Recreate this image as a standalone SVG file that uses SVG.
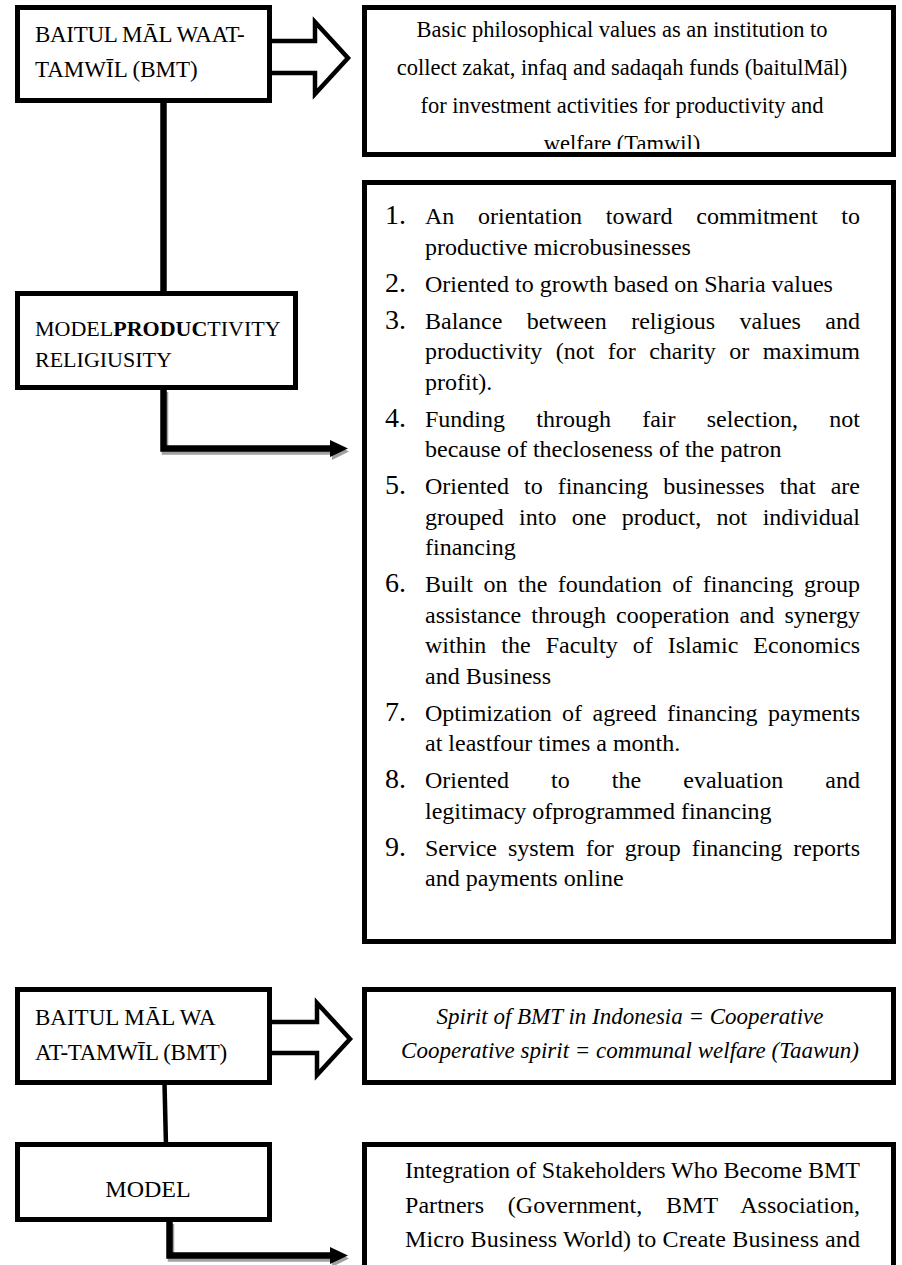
<svg xmlns="http://www.w3.org/2000/svg" width="902" height="1265" viewBox="0 0 902 1265">
<defs>
<style>
.box{fill:#fff;stroke:#000;stroke-width:5}
.t{font-family:'Liberation Serif','Times New Roman',serif;fill:#000}
.b24{font-size:24px}
.num{font-size:28px}
.conn{fill:none;stroke:#000;stroke-width:6.5}
.shadow{fill:none;stroke:#a0a0a0;stroke-width:6.5}
.block{fill:#fff;stroke:#000;stroke-width:4.5;stroke-linejoin:miter}
</style>
<clipPath id="clipTop"><rect x="367" y="10" width="524" height="139"/></clipPath>
</defs>
<rect width="902" height="1265" fill="#fff"/>

<g id="connectors">
  <polygon class="block" points="268,41 315,41 315,22 348,58 315,94 315,73 268,73"/>
  <line class="conn" x1="163.5" y1="100" x2="163.5" y2="295"/>
  <path class="shadow" d="M165,392 V451.5 H334"/>
  <polygon fill="#a0a0a0" points="332,443 349,451.5 332,460"/>
  <path class="conn" d="M163.5,388 V448.5 H333"/>
  <polygon fill="#000" points="330,440 348,448.5 330,457"/>
  <polygon class="block" points="268,1022 317,1022 317,1003 350,1039 317,1075 317,1053 268,1053"/>
  <line stroke="#000" stroke-width="4.5" x1="164.5" y1="1083" x2="166" y2="1146"/>
  <path class="shadow" d="M171,1224 V1258.5 H334"/>
  <polygon fill="#a0a0a0" points="332,1250 349,1258.5 332,1267"/>
  <path class="conn" d="M169.5,1220 V1255.5 H333"/>
  <polygon fill="#000" points="330,1247 348,1255.5 330,1264"/>
</g>

<g id="n-bmt-top">
  <rect class="box" x="17.5" y="7.5" width="252" height="93"/>
  <text class="t" font-size="23" x="35" y="42" letter-spacing="-0.3">BAITUL MĀL WAAT-</text>
  <text class="t" font-size="23" x="35" y="77">TAMWĪL (BMT)</text>
</g>

<g id="n-philosophy">
  <rect class="box" x="364.5" y="7.5" width="529" height="147"/>
  <g clip-path="url(#clipTop)" class="t" font-size="22.5" text-anchor="middle">
    <text x="622" y="37">Basic philosophical values as an institution to</text>
    <text x="622" y="75">collect zakat, infaq and sadaqah funds (baitulMāl)</text>
    <text x="622" y="113">for investment activities for productivity and</text>
    <text x="622" y="151">welfare (Tamwil)</text>
  </g>
</g>

<g id="n-model-prod">
  <rect class="box" x="17.5" y="293.5" width="278" height="94"/>
  <text class="t" font-size="22" x="35" y="336">MODEL<tspan font-weight="bold">PRODUC</tspan>TIVITY</text>
  <text class="t" font-size="22" x="35" y="367">RELIGIUSITY</text>
</g>

<g id="n-list">
  <rect class="box" x="364.5" y="182.5" width="529" height="759"/>
  <g class="t num">
    <text x="385" y="224">1.</text>
    <text x="385" y="291.5">2.</text>
    <text x="385" y="328.5">3.</text>
    <text x="385" y="426.5">4.</text>
    <text x="385" y="494">5.</text>
    <text x="385" y="592">6.</text>
    <text x="385" y="720.5">7.</text>
    <text x="385" y="788">8.</text>
    <text x="385" y="855.5">9.</text>
  </g>
  <g class="t b24">
    <text x="425" y="224" word-spacing="17.75" textLength="435" lengthAdjust="spacing">An orientation toward commitment to</text>
    <text x="425" y="254.5">productive microbusinesses</text>
    <text x="425" y="291.5">Oriented to growth based on Sharia values</text>
    <text x="425" y="328.5" word-spacing="18.45" textLength="435" lengthAdjust="spacing">Balance between religious values and</text>
    <text x="425" y="359" word-spacing="7.4" textLength="435" lengthAdjust="spacing">productivity (not for charity or maximum</text>
    <text x="425" y="389.5">profit).</text>
    <text x="425" y="426.5" word-spacing="25.25" textLength="435" lengthAdjust="spacing">Funding through fair selection, not</text>
    <text x="425" y="457">because of thecloseness of the patron</text>
    <text x="425" y="494" word-spacing="9" textLength="435" lengthAdjust="spacing">Oriented to financing businesses that are</text>
    <text x="425" y="524.5" word-spacing="9.4" textLength="435" lengthAdjust="spacing">grouped into one product, not individual</text>
    <text x="425" y="555">financing</text>
    <text x="425" y="592" word-spacing="4.5" textLength="435" lengthAdjust="spacing">Built on the foundation of financing group</text>
    <text x="425" y="622.5" word-spacing="4.1" textLength="435" lengthAdjust="spacing">assistance through cooperation and synergy</text>
    <text x="425" y="653" word-spacing="9" textLength="435" lengthAdjust="spacing">within the Faculty of Islamic Economics</text>
    <text x="425" y="683.5">and Business</text>
    <text x="425" y="720.5" word-spacing="4.4" textLength="435" lengthAdjust="spacing">Optimization of agreed financing payments</text>
    <text x="425" y="751">at leastfour times a month.</text>
    <text x="425" y="788" word-spacing="36.1" textLength="435" lengthAdjust="spacing">Oriented to the evaluation and</text>
    <text x="425" y="818.5">legitimacy ofprogrammed financing</text>
    <text x="425" y="855.5" word-spacing="5" textLength="435" lengthAdjust="spacing">Service system for group financing reports</text>
    <text x="425" y="886">and payments online</text>
  </g>
</g>

<g id="n-bmt-bottom">
  <rect class="box" x="17.5" y="989.5" width="252" height="93"/>
  <text class="t" font-size="23" x="35" y="1025">BAITUL MĀL WA</text>
  <text class="t" font-size="23" x="35" y="1060" letter-spacing="-0.3">AT-TAMWĪL (BMT)</text>
</g>

<g id="n-spirit">
  <rect class="box" x="364.5" y="989.5" width="529" height="93"/>
  <g class="t" font-size="23" font-style="italic" text-anchor="middle">
    <text x="630" y="1024">Spirit of BMT in Indonesia = Cooperative</text>
    <text x="630" y="1058">Cooperative spirit = communal welfare (Taawun)</text>
  </g>
</g>

<g id="n-model">
  <rect class="box" x="17.5" y="1144.5" width="252" height="75"/>
  <text class="t b24" x="148" y="1197" text-anchor="middle">MODEL</text>
</g>

<g id="n-integration">
  <rect class="box" x="364.5" y="1144.5" width="529" height="140"/>
  <g class="t b24">
    <text x="405" y="1178" textLength="455" lengthAdjust="spacing">Integration of Stakeholders Who Become BMT</text>
    <text x="405" y="1213" word-spacing="17.7" textLength="455" lengthAdjust="spacing">Partners (Government, BMT Association,</text>
    <text x="405" y="1247" textLength="455" lengthAdjust="spacing">Micro Business World) to Create Business and</text>
  </g>
</g>
</svg>
